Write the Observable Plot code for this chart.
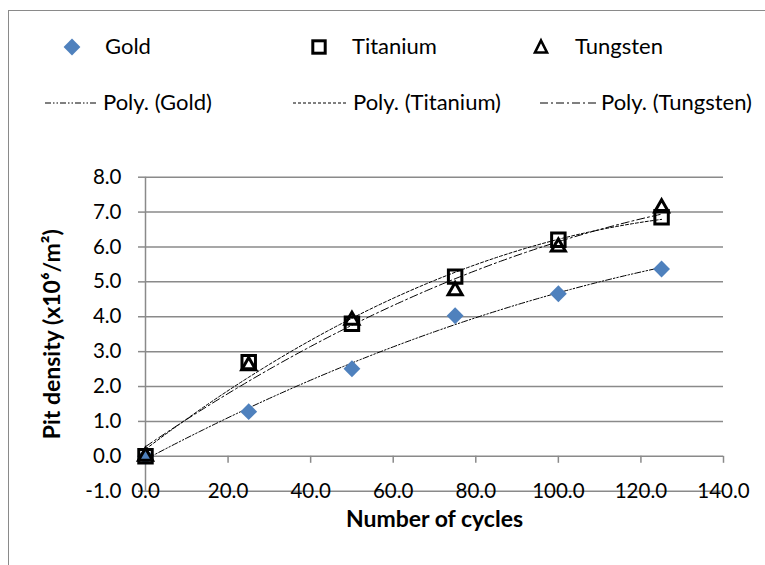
<!DOCTYPE html>
<html>
<head>
<meta charset="utf-8">
<script src="https://cdn.jsdelivr.net/npm/d3@7"></script>
<script src="https://cdn.jsdelivr.net/npm/@observablehq/plot@0.6"></script>
<style>
  html, body { margin: 0; padding: 0; background: #fff; }
  #wrap { position: relative; width: 765px; height: 565px; overflow: hidden; font-family: Lato, "Open Sans", sans-serif; }
  #frame { position: absolute; left: 8px; top: 10px; width: 800px; height: 600px; border: 1.5px solid #8a8a8a; box-sizing: border-box; }
  #chart { position: absolute; left: 0; top: 0; }
  .leg { position: absolute; font-size: 22px; line-height: 1; white-space: nowrap; display: flex; align-items: center; height: 26px; }
  .leg svg { overflow: visible; }
</style>
</head>
<body>
<div id="wrap">
  <div id="frame"></div>
  <div id="chart"></div>
  <div id="legend"></div>
</div>
<script>
// ---- data ----
const cycles = [0, 25, 50, 75, 100, 125];
const gold = [0, 1.28, 2.51, 4.03, 4.66, 5.37];
const titanium = [0, 2.70, 3.80, 5.15, 6.21, 6.85];
const tungsten = [0, 2.60, 3.90, 4.75, 6.00, 7.12];
const seriesNames = ["Gold", "Titanium", "Tungsten"];
const xTicks = [0, 20, 40, 60, 80, 100, 120, 140];
const yTicks = [-1, 0, 1, 2, 3, 4, 5, 6, 7, 8];

const goldColor = "#4F81BD";
const gridColor = "#8a8a8a";
const dashes = {Gold: "6 2 1.5 2 1.5 2", Titanium: "3 2", Tungsten: "8 3 2 3"};

// quadratic least-squares trendline (as Excel "Poly." order 2)
function polyfit2(xs, ys) {
  let n = xs.length, s1 = 0, s2 = 0, s3 = 0, s4 = 0, t0 = 0, t1 = 0, t2 = 0;
  for (let i = 0; i < n; i++) {
    const x = xs[i], y = ys[i];
    s1 += x; s2 += x * x; s3 += x * x * x; s4 += x * x * x * x;
    t0 += y; t1 += x * y; t2 += x * x * y;
  }
  const M = [[n, s1, s2], [s1, s2, s3], [s2, s3, s4]];
  const B = [t0, t1, t2];
  const det = m => m[0][0]*(m[1][1]*m[2][2]-m[1][2]*m[2][1]) - m[0][1]*(m[1][0]*m[2][2]-m[1][2]*m[2][0]) + m[0][2]*(m[1][0]*m[2][1]-m[1][1]*m[2][0]);
  const D = det(M);
  const coef = [0, 1, 2].map(k => det(M.map((row, r) => row.map((v, c) => c === k ? B[r] : v))) / D);
  return x => coef[0] + coef[1] * x + coef[2] * x * x;
}

const points = [];
const trends = [];
[gold, titanium, tungsten].forEach((vals, si) => {
  const name = seriesNames[si];
  cycles.forEach((c, i) => points.push({series: name, x: c, y: vals[i]}));
  const f = polyfit2(cycles, vals);
  for (const x of d3.range(0, 125.5, 1)) trends.push({series: name, x, y: f(x)});
});

const chart = Plot.plot({
  width: 765,
  height: 565,
  marginLeft: 145,
  marginRight: 42,
  marginTop: 176.7,
  marginBottom: 74.3,
  x: {domain: [0, 140], axis: null},
  y: {domain: [-1, 8], axis: null},
  style: {fontFamily: "Lato, 'Open Sans', sans-serif", fontSize: "20px", color: "#000", background: "transparent"},
  marks: [
    Plot.ruleY(yTicks, {stroke: gridColor, strokeWidth: 1.5}),
    Plot.ruleX([0], {stroke: gridColor, strokeWidth: 1.5}),
    Plot.axisY({ticks: yTicks, tickSize: 7, tickPadding: 17, tickFormat: d => d.toFixed(1), stroke: gridColor, strokeWidth: 1.5, label: null, fontSize: 20.5}),
    Plot.ruleX(xTicks, {x: d => d, y1: 0, y2: 0, insetBottom: -7, stroke: gridColor, strokeWidth: 1.5}),
    Plot.text(xTicks, {x: d => d, frameAnchor: "bottom", text: d => d.toFixed(1), lineAnchor: "middle", fontSize: 20.5, fill: "#000"}),
    Plot.text(["Pit density (x10⁶/m²)"], {frameAnchor: "left", dx: -93, rotate: -90, textAnchor: "middle", lineAnchor: "middle", fontWeight: "bold", fontSize: 23, fill: "#000"}),
    Plot.text(["Number of cycles"], {frameAnchor: "bottom", dy: 36, fontWeight: "bold", fontSize: 23, fill: "#000"}),
    ...seriesNames.map(name => Plot.line(trends.filter(d => d.series === name), {x: "x", y: "y", stroke: "#000", strokeWidth: 1, strokeDasharray: dashes[name]})),
    Plot.dot(points.filter(d => d.series === "Gold"), {x: "x", y: "y", symbol: "diamond2", r: 7.6, fill: goldColor, stroke: "none"}),
    Plot.dot(points.filter(d => d.series === "Tungsten"), {x: "x", y: "y", symbol: "triangle", r: 5.2, fill: "none", stroke: "#000", strokeWidth: 3}),
    Plot.dot(points.filter(d => d.series === "Titanium"), {x: "x", y: "y", symbol: "square", r: 7.6, fill: "none", stroke: "#000", strokeWidth: 3})
  ]
});
document.getElementById("chart").appendChild(chart);

// ---- legend ----
const legend = document.getElementById("legend");
const markerSvgs = {
  Gold: `<svg width="16" height="16" viewBox="-8 -8 16 16"><path d="M0,-8.4L8.4,0L0,8.4L-8.4,0Z" fill="${goldColor}"/></svg>`,
  Titanium: `<svg width="16" height="16" viewBox="-8 -8 16 16"><rect x="-6.2" y="-6.2" width="12.4" height="12.4" fill="none" stroke="#000" stroke-width="3"/></svg>`,
  Tungsten: `<svg width="16" height="16" viewBox="-8 -8 16 16"><path d="M0,-6.5L6,5.5L-6,5.5Z" fill="none" stroke="#000" stroke-width="2.6"/></svg>`
};
const markerX = {Gold: 64, Titanium: 311, Tungsten: 533};
const textX = {Gold: 105, Titanium: 352, Tungsten: 575};
const lineX = {Gold: [45, 97], Titanium: [293, 348], Tungsten: [540, 596]};
const polyX = {Gold: 103, Titanium: 353, Tungsten: 601};
seriesNames.forEach(name => {
  const m = document.createElement("div");
  m.className = "leg"; m.style.left = markerX[name] + "px"; m.style.top = "34px";
  m.innerHTML = markerSvgs[name];
  legend.appendChild(m);
  const t = document.createElement("div");
  t.className = "leg"; t.style.left = textX[name] + "px"; t.style.top = "33px";
  t.textContent = name;
  legend.appendChild(t);
  const [a, b] = lineX[name];
  const l = document.createElement("div");
  l.className = "leg"; l.style.left = a + "px"; l.style.top = "90px";
  l.innerHTML = `<svg width="${b - a}" height="14"><line x1="0" x2="${b - a}" y1="7" y2="7" stroke="#000" stroke-width="1" stroke-dasharray="${dashes[name]}"/></svg>`;
  legend.appendChild(l);
  const p = document.createElement("div");
  p.className = "leg"; p.style.left = polyX[name] + "px"; p.style.top = "89px";
  p.textContent = `Poly. (${name})`;
  legend.appendChild(p);
});
</script>
</body>
</html>
